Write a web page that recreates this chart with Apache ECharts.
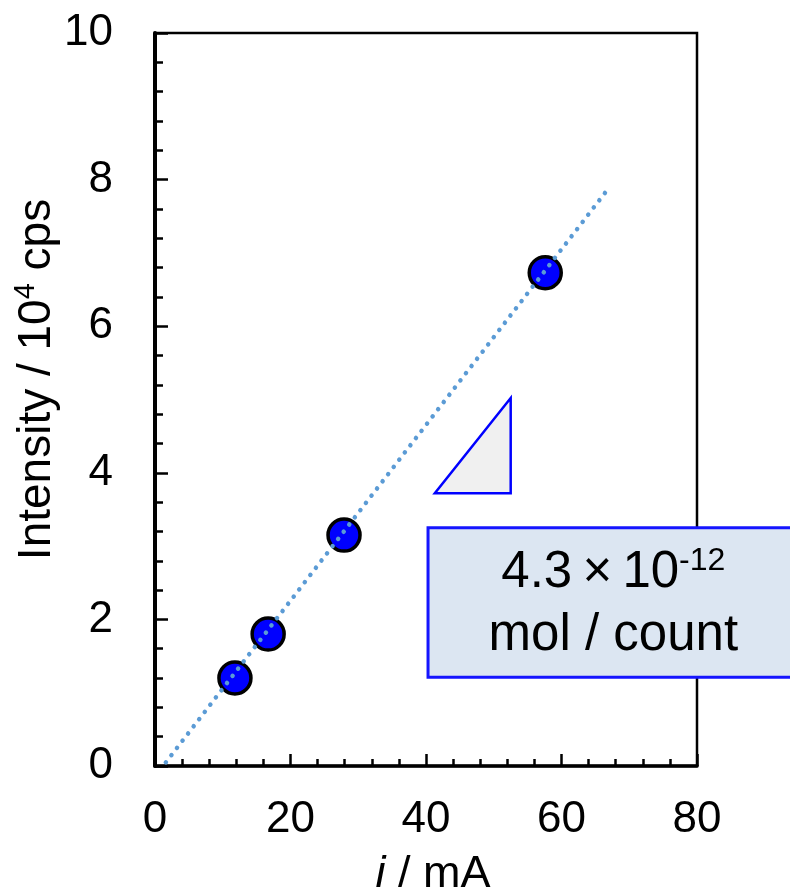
<!DOCTYPE html>
<html>
<head>
<meta charset="utf-8">
<script src="https://cdn.jsdelivr.net/npm/echarts@6/dist/echarts.min.js"></script>
<style>
  html, body { margin: 0; padding: 0; background: #fff; }
  #chart { width: 790px; height: 893px; }
</style>
</head>
<body>
<div id="chart"></div>
<script>
// Measured points: current i (mA) vs. intensity (10^4 cps)
const currentMA = [11.8, 16.7, 27.9, 57.6];
const intensity = [1.20, 1.80, 3.15, 6.73];

// Linear fit drawn as a dotted line (end points)
const fitX = [1.6, 66.6];
const fitY = [0.05, 7.84];

// Slope triangle (data coordinates)
const triX = [41.3, 52.5, 52.5];
const triY = [3.72, 3.72, 5.02];

// Annotation box: corners in data coordinates and its text
const boxX = [40.3, 95];
const boxY = [1.21, 3.25];
const boxValue = '4.3';
const boxExponent = '-12';
const boxUnit = 'mol / count';

const xTicks = [0, 20, 40, 60, 80];
const yTicks = [0, 2, 4, 6, 8, 10];

const FONT = '"Liberation Sans", Arial, sans-serif';

const chart = echarts.init(document.getElementById('chart'), null, { renderer: 'canvas' });

const points = currentMA.map((x, i) => [x, intensity[i]]);
const fitLine = fitX.map((x, i) => [x, fitY[i]]);

chart.setOption({
  animation: false,
  backgroundColor: '#ffffff',
  grid: {
    left: 155, right: 93, top: 33, bottom: 127,
    containLabel: false,
    outerBoundsMode: 'none',
    show: true, borderColor: '#000', borderWidth: 2.5,
    backgroundColor: 'transparent'
  },
  xAxis: {
    type: 'value',
    min: xTicks[0], max: xTicks[xTicks.length - 1], interval: 20,
    name: '{it|i} / mA',
    nameLocation: 'middle',
    nameGap: 86,
    nameMoveOverlap: false,
    nameTextStyle: {
      fontFamily: FONT, fontSize: 45, color: '#000', padding: [0, 0, 0, 14],
      rich: { it: { fontFamily: FONT, fontSize: 45, fontStyle: 'italic', color: '#000' } }
    },
    axisLine: { show: true, onZero: false, lineStyle: { color: '#000', width: 3.5 } },
    axisTick: { show: true, inside: true, length: 12, lineStyle: { color: '#000', width: 2.5 } },
    minorTick: { show: true, splitNumber: 5, length: 7, lineStyle: { color: '#000', width: 2.5 } },
    splitLine: { show: false },
    axisLabel: { fontFamily: FONT, fontSize: 44, color: '#000', margin: 32 }
  },
  yAxis: {
    type: 'value',
    min: yTicks[0], max: yTicks[yTicks.length - 1], interval: 2,
    name: 'Intensity / 10{sup|4} cps',
    nameLocation: 'middle',
    nameGap: 92,
    nameRotate: 90,
    nameMoveOverlap: false,
    nameTextStyle: {
      fontFamily: FONT, fontSize: 46, color: '#000', lineHeight: 52, padding: [0, 0, 0, 40],
      rich: { sup: { fontFamily: FONT, fontSize: 29, color: '#000', lineHeight: 52, padding: [0, 0, 23, 0] } }
    },
    axisLine: { show: true, onZero: false, lineStyle: { color: '#000', width: 4 } },
    axisTick: { show: true, inside: true, length: 13, lineStyle: { color: '#000', width: 2.5 } },
    minorTick: { show: true, splitNumber: 5, length: 8, lineStyle: { color: '#000', width: 2.5 } },
    splitLine: { show: false },
    axisLabel: { fontFamily: FONT, fontSize: 44, color: '#000', margin: 42 }
  },
  series: [
    {
      // slope triangle
      type: 'custom',
      z: 2,
      silent: true,
      data: [0],
      renderItem: function (params, api) {
        const pts = triX.map((x, i) => api.coord([x, triY[i]]));
        return {
          type: 'polygon',
          shape: { points: pts },
          style: { fill: '#f0f0f0', stroke: '#0000ff', lineWidth: 2.5, lineJoin: 'miter' }
        };
      }
    },
    {
      // annotation box with the calibration factor
      type: 'custom',
      z: 5,
      silent: true,
      clip: false,
      data: [0],
      renderItem: function (params, api) {
        const p0 = api.coord([boxX[0], boxY[1]]);
        const p1 = api.coord([boxX[1], boxY[0]]);
        const w = p1[0] - p0[0];
        const h = p1[1] - p0[1];
        return {
          type: 'group',
          children: [
            {
              type: 'rect',
              shape: { x: p0[0], y: p0[1], width: w, height: h },
              style: { fill: '#dce6f2', stroke: '#1515ff', lineWidth: 3 }
            },
            {
              type: 'text',
              x: p0[0] + w / 2,
              y: p0[1] + h / 2 + 2,
              style: {
                text: '{n|' + boxValue + '\u2009×\u200910}{s|' + boxExponent + '}\n{n|' + boxUnit + '}',
                align: 'center',
                verticalAlign: 'middle',
                rich: {
                  n: { fontFamily: FONT, fontSize: 51, lineHeight: 63, fill: '#000' },
                  s: { fontFamily: FONT, fontSize: 32, lineHeight: 63, fill: '#000', padding: [0, 0, 24, 0] }
                }
              }
            }
          ]
        };
      }
    },
    {
      // measured points
      type: 'scatter',
      z: 3,
      data: points,
      symbol: 'circle',
      symbolSize: 32,
      itemStyle: { color: '#0000ff', opacity: 1, borderColor: '#000', borderWidth: 3.5 }
    },
    {
      // fitted line, dotted, drawn over the points
      type: 'line',
      z: 4,
      data: fitLine,
      symbol: 'none',
      lineStyle: { color: '#5b9bd5', width: 4.5, type: [0.1, 9], cap: 'round' }
    }
  ]
});
</script>
</body>
</html>
